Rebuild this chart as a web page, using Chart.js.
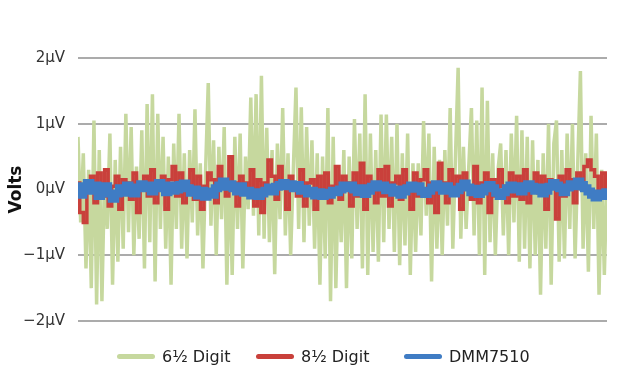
<!DOCTYPE html>
<html>
<head>
<meta charset="utf-8">
<script src="https://cdn.jsdelivr.net/npm/chart.js@4/dist/chart.umd.min.js"></script>
<style>
  html, body { margin: 0; padding: 0; background: #fff; }
  #wrap { position: relative; width: 618px; height: 375px; }
  #legend { position: absolute; left: 0; top: 346px; width: 618px; height: 20px;
            font-family: "DejaVu Sans", sans-serif; font-size: 16px; color: #222; }
  .item { position: absolute; top: 0; display: flex; align-items: center; height: 20px; white-space: nowrap; }
  .swatch { width: 38px; height: 5px; border-radius: 3px; margin-right: 7px; }
</style>
</head>
<body>
<div id="wrap">
  <canvas id="chart" width="618" height="375"></canvas>
  <div id="legend"></div>
</div>
<script>
// series names and colours
const seriesNames = ["6½ Digit", "8½ Digit", "DMM7510"];
const seriesColors = ["#c6d89e", "#c9403b", "#3f7cc4"];

// y tick values and labels (µV)
const yTicks = [2, 1, 0, -1, -2];
const yTickLabels = ["2µV", "1µV", "0µV", "−1µV", "−2µV"];

// 6½ digit meter readings, µV
const digit65 = [
  0.8, -0.5, 0.55, -1.2, 0.3, -1.5, 1.05, -1.75, 0.6, -1.7, 0.25, -0.6, 0.85, -1.45, 0.45, -1.1, 0.65,
  -0.9, 1.15, -0.65, 0.95, -1.0, 0.35, -0.75, 0.9, -1.2, 1.3, -0.8, 1.45, -1.4, 1.15, -0.6, 0.8,
  -0.9, 0.5, -1.45, 0.7, -0.6, 1.15, -0.9, 0.55, -1.05, 0.6, -0.5, 1.22, -0.7, 0.4, -1.2, 0.3, 1.62,
  -0.55, 0.75, -1.0, 0.65, -0.45, 0.95, -1.45, 0.45, -1.3, 0.8, -0.6, 0.85, -1.2, 0.5, -0.3, 1.4,
  -0.4, 1.45, -0.7, 1.73, -0.75, 0.94, -0.8, 0.6, -1.29, 0.7, -0.45, 1.24, -0.7, 0.55, -1.0, 0.3, 1.55,
  -0.6, 1.25, -0.8, 0.95, -0.55, 0.75, -0.9, 0.55, -1.45, 0.5, -1.05, 1.24, -1.7, 0.8, -1.5, 0.3, -0.8,
  0.6, -1.5, 0.5, -1.05, 1.07, -0.6, 0.85, -1.2, 1.45, -1.3, 0.85, -0.95, 0.6, -1.1, 1.14, -0.8, 1.14,
  -0.6, 0.8, -0.95, 1.0, -1.15, 0.55, -0.85, 0.85, -1.3, 0.4, -0.95, 0.4, -0.7, 1.04, -0.4, 0.85,
  -1.4, 0.65, -0.9, 0.45, -1.0, 0.6, -0.55, 1.24, -0.9, 0.5, 1.85, -0.75, 0.65, -0.6, 0.35, 1.24, -0.7,
  1.05, -1.0, 1.55, -1.3, 1.35, -0.8, 0.55, -1.0, 0.3, 0.7, -0.7, 0.6, -1.0, 0.85, -0.5, 1.12,
  -1.1, 0.9, -0.9, 0.8, -1.2, 0.75, -1.0, 0.45, -1.6, 0.55, -0.9, 1.0, -1.45, 0.7, 1.05, -1.1, 0.6,
  -1.05, 0.85, -0.6, 1.0, -1.05, 0.4, 1.8, -0.9, 0.55, -1.25, 1.12, -0.6, 0.85, -1.6, 0.3, -1.3, 0.25
];

// 8½ digit meter readings, µV
const digit85 = [
  0.1, -0.35, -0.5, 0.05, 0.2, -0.2, 0.25, -0.1, 0.3, -0.25, 0.05, 0.2, -0.3, 0.15, 0.1, -0.15, 0.25,
  -0.35, 0.05, 0.2, -0.1, 0.3, -0.2, 0.1, 0.2, -0.3, 0.15, 0.35, -0.1, 0.25, -0.2,
  0.1, 0.3, -0.15, 0.2, -0.3, 0.05, 0.25, 0.15, -0.2, 0.35, 0.05, -0.1, 0.5, 0.1, -0.25, 0.2, 0.1,
  -0.05, 0.3, -0.25, 0.15, -0.35, 0.1,
  0.45, 0.2, -0.15, 0.35, 0.1, -0.3, 0.2, 0.05, -0.1, 0.3, -0.25, 0.1, 0.15, -0.3, 0.2, -0.1, 0.25,
  -0.2, 0.05, 0.35, -0.15, 0.2, 0.1, -0.25,
  0.25, -0.1, 0.4, -0.3, 0.2, 0.05, -0.2, 0.3, -0.1, 0.35, -0.25, 0.1, 0.2, -0.15, 0.3, 0.05, -0.3,
  0.25, -0.1, 0.15, 0.3, -0.2, 0.1, -0.35,
  0.4, 0.1, -0.2, 0.3, -0.05, 0.2, -0.3, 0.25, 0.05, -0.15, 0.35, -0.2, 0.1, 0.25, -0.35, 0.15, -0.1,
  0.3, 0.05, -0.2, 0.25, -0.1, 0.2, -0.15,
  0.3, -0.2, 0.1, 0.25, -0.05, 0.2, -0.3, 0.15, 0.05, -0.45, 0.2, -0.1, 0.3, 0.15, -0.2, 0.25, 0.1,
  0.35, 0.45, 0.3, 0.2, -0.05, 0.25, -0.1
];

// DMM7510 readings, µV
const dmm7510 = [
  0.05, -0.08, 0.02, 0.1, -0.02, 0.06, -0.1, -0.04, 0.05, -0.06, -0.14, -0.06, 0.02, -0.05, 0.06, 0.0,
  -0.06, 0.03, 0.08, 0.02, 0.06, -0.03, 0.04, 0.1, 0.02, -0.04, 0.06, -0.02, 0.0, 0.07, 0.09, 0.02,
  -0.05, 0.0, -0.09, -0.02, -0.11, -0.03, -0.08, 0.02, 0.06, 0.12, 0.04, 0.08, 0.02, -0.03, 0.05, -0.05,
  -0.02, -0.09, -0.04, -0.1, -0.06, -0.02, 0.03, -0.03, 0.04, 0.07, 0.1, 0.05, 0.08, 0.02, 0.07, -0.02,
  0.01, -0.06, -0.02, -0.09, -0.04, -0.1, -0.05, -0.08, -0.02, -0.04, 0.0, 0.06, 0.02, 0.06, 0.0, -0.04,
  0.02, -0.07, -0.02, 0.04, 0.08, 0.03, 0.06, -0.01, 0.03, -0.05, 0.0, -0.08, -0.03, 0.02, 0.06, 0.01,
  0.05, -0.03, -0.07, -0.02, 0.03, 0.08, 0.04, -0.02, 0.05, 0.0, -0.06, -0.01, 0.04, 0.09, 0.03, -0.04,
  0.01, -0.07, -0.03, 0.03, 0.07, 0.02, -0.05, -0.1, -0.04, 0.02, 0.06, 0.0, 0.05, -0.03, 0.02, 0.08,
  0.04, -0.02, 0.03, -0.06, -0.02, 0.04, 0.1, 0.06, 0.02, -0.04, 0.03, 0.08, 0.05, 0.12, 0.07, 0.02,
  -0.03, -0.08, -0.12, -0.06, -0.1, -0.04
];

const allSeries = [digit65, digit85, dmm7510];
const lineWidths = [3.5, 3.5, 8];
const stepStyles = [false, "middle", "middle"];

// spread each series over the full width of the plot
const toPoints = arr => arr.map((v, i) => ({ x: i / (arr.length - 1), y: v }));

const datasets = allSeries.map((arr, i) => ({
  label: seriesNames[i],
  data: toPoints(arr),
  borderColor: seriesColors[i],
  backgroundColor: seriesColors[i],
  borderWidth: lineWidths[i],
  pointRadius: 0,
  tension: 0,
  stepped: stepStyles[i],
  fill: false,
  order: allSeries.length - i
}));

new Chart(document.getElementById("chart"), {
  type: "line",
  data: { datasets },
  options: {
    responsive: false,
    animation: false,
    layout: { padding: { top: 58, right: 11, bottom: 54, left: 6 } },
    plugins: { legend: { display: false }, tooltip: { enabled: false } },
    scales: {
      x: { type: "linear", display: false, min: 0, max: 1 },
      y: {
        min: -2, max: 2,
        afterFit: s => { s.width = 72; },
        ticks: {
          stepSize: 1,
          padding: 13,
          color: "#333",
          font: { family: "DejaVu Sans", size: 15 },
          callback: v => yTickLabels[yTicks.indexOf(v)]
        },
        grid: { color: "#ababab", lineWidth: 2, drawTicks: false },
        border: { display: false },
        title: {
          display: true, text: "Volts", color: "#111",
          padding: { top: 0, bottom: 0 },
          font: { family: "DejaVu Sans", size: 17, weight: "bold" }
        }
      }
    }
  }
});

// legend below the plot
const legendLeft = [117, 256, 404];
const legend = document.getElementById("legend");
seriesNames.forEach((name, i) => {
  const item = document.createElement("div");
  item.className = "item";
  item.style.left = legendLeft[i] + "px";
  item.innerHTML = `<span class="swatch" style="background:${seriesColors[i]}"></span><span>${name}</span>`;
  legend.appendChild(item);
});
</script>
</body>
</html>
